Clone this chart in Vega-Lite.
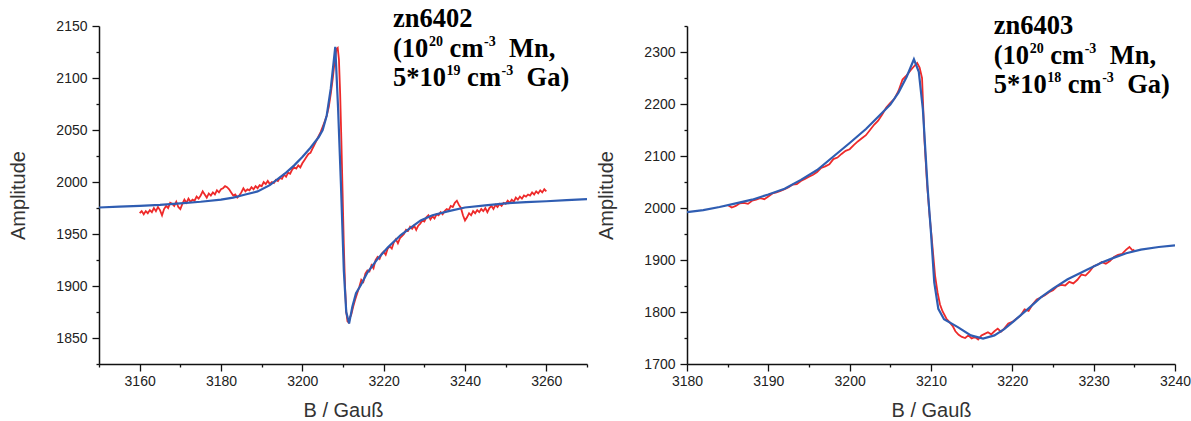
{
  "$schema": "https://vega.github.io/schema/vega-lite/v6.json",
  "background": "white",
  "padding": {"left": 8, "top": 6, "right": 0, "bottom": 0},
  "bounds": "flush",
  "spacing": 100,
  "config": {
    "view": {"stroke": null},
    "axis": {
      "grid": false,
      "domainColor": "#111",
      "domainWidth": 1.5,
      "tickColor": "#111",
      "tickWidth": 1.3,
      "labelFont": "Liberation Sans",
      "labelFontSize": 14,
      "labelColor": "#222",
      "titleFont": "Liberation Sans",
      "titleFontSize": 20,
      "titleFontWeight": "normal",
      "titleColor": "#333",
      "labelOverlap": false,
      "labelFlush": false
    },
    "text": {"font": "Liberation Serif", "fontWeight": "bold", "fontSize": 26.5, "align": "left", "baseline": "alphabetic", "color": "#000"}
  },
  "datasets": {
    "left_fit": [
      {"B": 3150, "A": 1975.5}, {"B": 3155, "A": 1976.3}, {"B": 3160, "A": 1977}, {"B": 3165, "A": 1978}, {"B": 3170, "A": 1979.5},
      {"B": 3175, "A": 1981}, {"B": 3180, "A": 1983}, {"B": 3183, "A": 1985}, {"B": 3186, "A": 1988}, {"B": 3189, "A": 1991},
      {"B": 3192, "A": 1997}, {"B": 3194, "A": 2003}, {"B": 3196, "A": 2009}, {"B": 3198, "A": 2016}, {"B": 3200, "A": 2024},
      {"B": 3202, "A": 2033}, {"B": 3204, "A": 2043}, {"B": 3205, "A": 2050}, {"B": 3206, "A": 2064}, {"B": 3207, "A": 2090},
      {"B": 3207.6, "A": 2112}, {"B": 3208.1, "A": 2130}, {"B": 3208.8, "A": 2070}, {"B": 3209.5, "A": 1997}, {"B": 3210.2, "A": 1915},
      {"B": 3210.8, "A": 1875}, {"B": 3211.5, "A": 1864}, {"B": 3212.3, "A": 1880}, {"B": 3213.2, "A": 1893}, {"B": 3214.4, "A": 1901},
      {"B": 3216, "A": 1913}, {"B": 3218.5, "A": 1926}, {"B": 3221, "A": 1937}, {"B": 3224.2, "A": 1949}, {"B": 3227, "A": 1957},
      {"B": 3229.1, "A": 1963}, {"B": 3232, "A": 1968}, {"B": 3236, "A": 1972}, {"B": 3240, "A": 1975.5}, {"B": 3245, "A": 1977.5},
      {"B": 3250, "A": 1979.5}, {"B": 3255, "A": 1980.6}, {"B": 3260, "A": 1981.5}, {"B": 3265, "A": 1982.5}, {"B": 3270, "A": 1983.5}
    ],
    "left_data": [
      {"B": 3160.0, "A": 1970}, {"B": 3160.5, "A": 1972}, {"B": 3161.0, "A": 1969}, {"B": 3161.5, "A": 1972}, {"B": 3162.0, "A": 1970},
      {"B": 3162.5, "A": 1973}, {"B": 3163.0, "A": 1971}, {"B": 3163.5, "A": 1975}, {"B": 3164.0, "A": 1972}, {"B": 3164.5, "A": 1976},
      {"B": 3165.0, "A": 1973}, {"B": 3165.5, "A": 1968}, {"B": 3166.0, "A": 1974}, {"B": 3166.5, "A": 1977}, {"B": 3167.0, "A": 1975},
      {"B": 3167.5, "A": 1980}, {"B": 3168.0, "A": 1979}, {"B": 3168.5, "A": 1977}, {"B": 3169.0, "A": 1981}, {"B": 3169.5, "A": 1976},
      {"B": 3170.0, "A": 1974}, {"B": 3170.5, "A": 1979}, {"B": 3171.0, "A": 1983}, {"B": 3171.5, "A": 1980}, {"B": 3172.0, "A": 1984},
      {"B": 3172.5, "A": 1981}, {"B": 3173.0, "A": 1983}, {"B": 3173.5, "A": 1982}, {"B": 3174.0, "A": 1986}, {"B": 3174.5, "A": 1984},
      {"B": 3175.0, "A": 1987}, {"B": 3175.5, "A": 1991}, {"B": 3176.0, "A": 1988}, {"B": 3176.5, "A": 1985}, {"B": 3177.0, "A": 1989},
      {"B": 3177.5, "A": 1987}, {"B": 3178.0, "A": 1990}, {"B": 3178.5, "A": 1988}, {"B": 3179.0, "A": 1992}, {"B": 3179.5, "A": 1990},
      {"B": 3180.0, "A": 1993}, {"B": 3180.5, "A": 1994}, {"B": 3181.0, "A": 1996}, {"B": 3181.5, "A": 1995}, {"B": 3182.0, "A": 1993},
      {"B": 3182.5, "A": 1990}, {"B": 3183.0, "A": 1987}, {"B": 3183.5, "A": 1988}, {"B": 3184.0, "A": 1985}, {"B": 3184.5, "A": 1987},
      {"B": 3185.0, "A": 1990}, {"B": 3185.5, "A": 1994}, {"B": 3186.0, "A": 1991}, {"B": 3186.5, "A": 1993}, {"B": 3187.0, "A": 1992},
      {"B": 3187.5, "A": 1995}, {"B": 3188.0, "A": 1993}, {"B": 3188.5, "A": 1996}, {"B": 3189.0, "A": 1994}, {"B": 3189.5, "A": 1997},
      {"B": 3190.0, "A": 1996}, {"B": 3190.5, "A": 2000}, {"B": 3191.0, "A": 1998}, {"B": 3191.5, "A": 2001}, {"B": 3192.0, "A": 1998},
      {"B": 3192.5, "A": 2000}, {"B": 3193.0, "A": 1999}, {"B": 3193.5, "A": 2002}, {"B": 3194.0, "A": 2001}, {"B": 3194.5, "A": 2004},
      {"B": 3195.0, "A": 2003}, {"B": 3195.5, "A": 2007}, {"B": 3196.0, "A": 2005}, {"B": 3196.5, "A": 2009}, {"B": 3197.0, "A": 2008},
      {"B": 3197.5, "A": 2012}, {"B": 3198.0, "A": 2014}, {"B": 3198.5, "A": 2013}, {"B": 3199.0, "A": 2016}, {"B": 3199.5, "A": 2014},
      {"B": 3200.0, "A": 2018}, {"B": 3200.5, "A": 2021}, {"B": 3201.0, "A": 2024}, {"B": 3201.5, "A": 2027}, {"B": 3202.0, "A": 2028},
      {"B": 3202.5, "A": 2032}, {"B": 3203.0, "A": 2036}, {"B": 3203.5, "A": 2040}, {"B": 3204.0, "A": 2044}, {"B": 3204.5, "A": 2048},
      {"B": 3205.0, "A": 2053}, {"B": 3205.5, "A": 2058}, {"B": 3206.0, "A": 2064}, {"B": 3206.5, "A": 2072}, {"B": 3207.0, "A": 2085},
      {"B": 3207.5, "A": 2100}, {"B": 3208.0, "A": 2118}, {"B": 3208.4, "A": 2128}, {"B": 3208.7, "A": 2129}, {"B": 3209.0, "A": 2118},
      {"B": 3209.3, "A": 2085}, {"B": 3209.6, "A": 2040}, {"B": 3209.9, "A": 1990}, {"B": 3210.2, "A": 1940}, {"B": 3210.5, "A": 1900},
      {"B": 3210.8, "A": 1875}, {"B": 3211.1, "A": 1866}, {"B": 3211.4, "A": 1865}, {"B": 3211.7, "A": 1870}, {"B": 3212.0, "A": 1872},
      {"B": 3212.5, "A": 1880}, {"B": 3213.0, "A": 1887}, {"B": 3213.5, "A": 1893}, {"B": 3214.0, "A": 1899}, {"B": 3214.5, "A": 1906},
      {"B": 3215.0, "A": 1904}, {"B": 3215.5, "A": 1912}, {"B": 3216.0, "A": 1915}, {"B": 3216.5, "A": 1914}, {"B": 3217.0, "A": 1920},
      {"B": 3217.5, "A": 1917}, {"B": 3218.0, "A": 1925}, {"B": 3218.5, "A": 1928}, {"B": 3219.0, "A": 1926}, {"B": 3219.5, "A": 1931},
      {"B": 3220.0, "A": 1933}, {"B": 3220.5, "A": 1930}, {"B": 3221.0, "A": 1936}, {"B": 3221.5, "A": 1938}, {"B": 3222.0, "A": 1936},
      {"B": 3222.5, "A": 1942}, {"B": 3223.0, "A": 1945}, {"B": 3223.5, "A": 1941}, {"B": 3224.0, "A": 1946}, {"B": 3224.5, "A": 1948},
      {"B": 3225.0, "A": 1950}, {"B": 3225.5, "A": 1954}, {"B": 3226.0, "A": 1953}, {"B": 3226.5, "A": 1957}, {"B": 3227.0, "A": 1955},
      {"B": 3227.5, "A": 1958}, {"B": 3228.0, "A": 1954}, {"B": 3228.5, "A": 1958}, {"B": 3229.0, "A": 1960}, {"B": 3229.5, "A": 1963},
      {"B": 3230.0, "A": 1962}, {"B": 3230.5, "A": 1966}, {"B": 3231.0, "A": 1968}, {"B": 3231.5, "A": 1964}, {"B": 3232.0, "A": 1967},
      {"B": 3232.5, "A": 1965}, {"B": 3233.0, "A": 1969}, {"B": 3233.5, "A": 1968}, {"B": 3234.0, "A": 1971}, {"B": 3234.5, "A": 1969},
      {"B": 3235.0, "A": 1972}, {"B": 3235.5, "A": 1974}, {"B": 3236.0, "A": 1973}, {"B": 3236.5, "A": 1977}, {"B": 3237.0, "A": 1976},
      {"B": 3237.5, "A": 1980}, {"B": 3238.0, "A": 1982}, {"B": 3238.5, "A": 1978}, {"B": 3239.0, "A": 1975}, {"B": 3239.5, "A": 1968},
      {"B": 3240.0, "A": 1963}, {"B": 3240.5, "A": 1966}, {"B": 3241.0, "A": 1970}, {"B": 3241.5, "A": 1968}, {"B": 3242.0, "A": 1972},
      {"B": 3242.5, "A": 1970}, {"B": 3243.0, "A": 1973}, {"B": 3243.5, "A": 1971}, {"B": 3244.0, "A": 1974}, {"B": 3244.5, "A": 1972},
      {"B": 3245.0, "A": 1975}, {"B": 3245.5, "A": 1971}, {"B": 3246.0, "A": 1975}, {"B": 3246.5, "A": 1977}, {"B": 3247.0, "A": 1974},
      {"B": 3247.5, "A": 1978}, {"B": 3248.0, "A": 1976}, {"B": 3248.5, "A": 1979}, {"B": 3249.0, "A": 1977}, {"B": 3249.5, "A": 1980},
      {"B": 3250.0, "A": 1979}, {"B": 3250.5, "A": 1982}, {"B": 3251.0, "A": 1980}, {"B": 3251.5, "A": 1983}, {"B": 3252.0, "A": 1981},
      {"B": 3252.5, "A": 1985}, {"B": 3253.0, "A": 1983}, {"B": 3253.5, "A": 1986}, {"B": 3254.0, "A": 1984}, {"B": 3254.5, "A": 1987},
      {"B": 3255.0, "A": 1986}, {"B": 3255.5, "A": 1988}, {"B": 3256.0, "A": 1987}, {"B": 3256.5, "A": 1990}, {"B": 3257.0, "A": 1988},
      {"B": 3257.5, "A": 1991}, {"B": 3258.0, "A": 1989}, {"B": 3258.5, "A": 1992}, {"B": 3259.0, "A": 1990}, {"B": 3259.5, "A": 1993},
      {"B": 3260.0, "A": 1991}
    ],
    "right_fit": [
      {"B": 3180, "A": 1992}, {"B": 3182, "A": 1996}, {"B": 3184, "A": 2002}, {"B": 3186, "A": 2009}, {"B": 3188, "A": 2016},
      {"B": 3190, "A": 2026}, {"B": 3192, "A": 2037}, {"B": 3194, "A": 2054}, {"B": 3196, "A": 2073}, {"B": 3198, "A": 2099},
      {"B": 3200, "A": 2125}, {"B": 3202, "A": 2152}, {"B": 3204, "A": 2183}, {"B": 3205, "A": 2199}, {"B": 3206, "A": 2222},
      {"B": 3207, "A": 2252}, {"B": 3207.9, "A": 2286}, {"B": 3208.5, "A": 2262}, {"B": 3209, "A": 2190}, {"B": 3209.6, "A": 2035},
      {"B": 3210, "A": 1952}, {"B": 3210.4, "A": 1857}, {"B": 3210.9, "A": 1806}, {"B": 3211.6, "A": 1786}, {"B": 3213.3, "A": 1771},
      {"B": 3214.9, "A": 1755}, {"B": 3216.4, "A": 1749}, {"B": 3217.8, "A": 1755}, {"B": 3219, "A": 1767}, {"B": 3220.3, "A": 1784},
      {"B": 3222, "A": 1807}, {"B": 3223.5, "A": 1828}, {"B": 3225, "A": 1845}, {"B": 3226.8, "A": 1863}, {"B": 3229.3, "A": 1882},
      {"B": 3231, "A": 1895}, {"B": 3232.6, "A": 1905}, {"B": 3234, "A": 1913}, {"B": 3235.8, "A": 1920}, {"B": 3238, "A": 1925},
      {"B": 3240, "A": 1928}
    ],
    "right_data": [
      {"B": 3185.0, "A": 2006}, {"B": 3185.5, "A": 2001}, {"B": 3186.0, "A": 2004}, {"B": 3186.5, "A": 2009}, {"B": 3187.0, "A": 2010},
      {"B": 3187.5, "A": 2008}, {"B": 3188.0, "A": 2014}, {"B": 3188.5, "A": 2016}, {"B": 3189.0, "A": 2019}, {"B": 3189.5, "A": 2017},
      {"B": 3190.0, "A": 2022}, {"B": 3190.5, "A": 2028}, {"B": 3191.0, "A": 2030}, {"B": 3191.5, "A": 2033}, {"B": 3192.0, "A": 2036},
      {"B": 3192.5, "A": 2040}, {"B": 3193.0, "A": 2045}, {"B": 3193.5, "A": 2046}, {"B": 3194.0, "A": 2052}, {"B": 3194.5, "A": 2056},
      {"B": 3195.0, "A": 2060}, {"B": 3195.5, "A": 2064}, {"B": 3196.0, "A": 2069}, {"B": 3196.5, "A": 2077}, {"B": 3197.0, "A": 2080},
      {"B": 3197.5, "A": 2084}, {"B": 3198.0, "A": 2094}, {"B": 3198.5, "A": 2097}, {"B": 3199.0, "A": 2104}, {"B": 3199.5, "A": 2110},
      {"B": 3200.0, "A": 2113}, {"B": 3200.5, "A": 2121}, {"B": 3201.0, "A": 2128}, {"B": 3201.5, "A": 2134}, {"B": 3202.0, "A": 2140},
      {"B": 3202.5, "A": 2150}, {"B": 3203.0, "A": 2160}, {"B": 3203.5, "A": 2168}, {"B": 3204.0, "A": 2180}, {"B": 3204.5, "A": 2193},
      {"B": 3205.0, "A": 2202}, {"B": 3205.5, "A": 2210}, {"B": 3206.0, "A": 2225}, {"B": 3206.5, "A": 2247}, {"B": 3207.0, "A": 2255},
      {"B": 3207.5, "A": 2265}, {"B": 3208.0, "A": 2274}, {"B": 3208.3, "A": 2279}, {"B": 3208.6, "A": 2270}, {"B": 3208.9, "A": 2250},
      {"B": 3209.2, "A": 2130}, {"B": 3209.5, "A": 2050}, {"B": 3209.8, "A": 1990}, {"B": 3210.1, "A": 1940}, {"B": 3210.5, "A": 1870},
      {"B": 3210.8, "A": 1838}, {"B": 3211.1, "A": 1815}, {"B": 3211.4, "A": 1802}, {"B": 3211.9, "A": 1787}, {"B": 3212.3, "A": 1780},
      {"B": 3212.7, "A": 1772}, {"B": 3213.0, "A": 1763}, {"B": 3213.4, "A": 1756}, {"B": 3213.8, "A": 1752}, {"B": 3214.2, "A": 1750},
      {"B": 3214.6, "A": 1755}, {"B": 3215.0, "A": 1749}, {"B": 3215.4, "A": 1752}, {"B": 3215.8, "A": 1747}, {"B": 3216.2, "A": 1755},
      {"B": 3216.6, "A": 1758}, {"B": 3217.0, "A": 1761}, {"B": 3217.4, "A": 1757}, {"B": 3217.8, "A": 1763}, {"B": 3218.2, "A": 1768},
      {"B": 3218.6, "A": 1762}, {"B": 3219.0, "A": 1768}, {"B": 3219.5, "A": 1778}, {"B": 3220.0, "A": 1781}, {"B": 3220.5, "A": 1787},
      {"B": 3221.0, "A": 1793}, {"B": 3221.5, "A": 1805}, {"B": 3222.0, "A": 1802}, {"B": 3222.5, "A": 1815}, {"B": 3223.0, "A": 1824},
      {"B": 3223.5, "A": 1828}, {"B": 3224.0, "A": 1832}, {"B": 3224.5, "A": 1838}, {"B": 3225.0, "A": 1842}, {"B": 3225.5, "A": 1849},
      {"B": 3226.0, "A": 1852}, {"B": 3226.5, "A": 1851}, {"B": 3227.0, "A": 1858}, {"B": 3227.5, "A": 1855}, {"B": 3228.0, "A": 1862},
      {"B": 3228.5, "A": 1872}, {"B": 3229.0, "A": 1870}, {"B": 3229.5, "A": 1878}, {"B": 3230.0, "A": 1888}, {"B": 3230.5, "A": 1891},
      {"B": 3231.0, "A": 1896}, {"B": 3231.5, "A": 1893}, {"B": 3232.0, "A": 1898}, {"B": 3232.5, "A": 1906}, {"B": 3233.0, "A": 1910},
      {"B": 3233.5, "A": 1912}, {"B": 3234.0, "A": 1920}, {"B": 3234.4, "A": 1925}, {"B": 3234.8, "A": 1918}, {"B": 3235.0, "A": 1920}
    ]
  },
  "hconcat": [
    {
      "width": 488,
      "height": 338,
      "resolve": {"axis": {"x": "independent", "y": "independent"}},
      "layer": [
        {
          "data": {"name": "left_data"},
          "mark": {"type": "line", "color": "#ee2a2a", "strokeWidth": 1.8, "clip": true},
          "encoding": {
            "x": {
              "field": "B", "type": "quantitative", "title": "B / Gauß",
              "scale": {"domain": [3150, 3270], "nice": false, "zero": false},
              "axis": {
                "values": [3150, 3160, 3170, 3180, 3190, 3200, 3210, 3220, 3230, 3240, 3250, 3260, 3270],
                "format": "d",
                "labelExpr": "datum.value % 20 === 0 ? datum.label : ''",
                "tickSize": {"condition": {"test": "datum.value % 20 === 0", "value": 7}, "value": 3},
                "labelPadding": 3,
                "titlePadding": 12
              }
            },
            "y": {
              "field": "A", "type": "quantitative", "title": "Amplitude",
              "scale": {"domain": [1825, 2150], "nice": false, "zero": false},
              "axis": {
                "values": [1825, 1850, 1875, 1900, 1925, 1950, 1975, 2000, 2025, 2050, 2075, 2100, 2125, 2150],
                "format": "d",
                "labelExpr": "datum.value % 50 === 0 ? datum.label : ''",
                "tickSize": {"condition": {"test": "datum.value % 50 === 0", "value": 7}, "value": 3},
                "labelPadding": 5,
                "titlePadding": 27
              }
            }
          }
        },
        {
          "data": {"name": "left_fit"},
          "mark": {"type": "line", "color": "#2f5db2", "strokeWidth": 2.2, "clip": true},
          "encoding": {
            "x": {"field": "B", "type": "quantitative", "axis": null},
            "y": {"field": "A", "type": "quantitative", "axis": null}
          }
        },
        {
          "data": {"values": [{"t": "zn6402\n(10\n5*10"}]},
          "mark": {"type": "text", "lineBreak": "\n", "lineHeight": 29.5},
          "encoding": {
            "text": {"field": "t"},
            "x": {"datum": 3222.3, "type": "quantitative", "axis": null},
            "y": {"datum": 2148.6, "type": "quantitative", "axis": null}
          }
        },
        {
          "data": {"values": [{"t": "20"}]},
          "mark": {"type": "text", "fontSize": 14, "dx": 36, "dy": 18.5},
          "encoding": {
            "text": {"field": "t"},
            "x": {"datum": 3222.3, "type": "quantitative", "axis": null},
            "y": {"datum": 2148.6, "type": "quantitative", "axis": null}
          }
        },
        {
          "data": {"values": [{"t": "cm"}]},
          "mark": {"type": "text", "dx": 56.6, "dy": 29.5},
          "encoding": {
            "text": {"field": "t"},
            "x": {"datum": 3222.3, "type": "quantitative", "axis": null},
            "y": {"datum": 2148.6, "type": "quantitative", "axis": null}
          }
        },
        {
          "data": {"values": [{"t": "-3"}]},
          "mark": {"type": "text", "fontSize": 14, "dx": 91, "dy": 18.5},
          "encoding": {
            "text": {"field": "t"},
            "x": {"datum": 3222.3, "type": "quantitative", "axis": null},
            "y": {"datum": 2148.6, "type": "quantitative", "axis": null}
          }
        },
        {
          "data": {"values": [{"t": "Mn,"}]},
          "mark": {"type": "text", "dx": 116, "dy": 29.5},
          "encoding": {
            "text": {"field": "t"},
            "x": {"datum": 3222.3, "type": "quantitative", "axis": null},
            "y": {"datum": 2148.6, "type": "quantitative", "axis": null}
          }
        },
        {
          "data": {"values": [{"t": "19"}]},
          "mark": {"type": "text", "fontSize": 14, "dx": 53.5, "dy": 48},
          "encoding": {
            "text": {"field": "t"},
            "x": {"datum": 3222.3, "type": "quantitative", "axis": null},
            "y": {"datum": 2148.6, "type": "quantitative", "axis": null}
          }
        },
        {
          "data": {"values": [{"t": "cm"}]},
          "mark": {"type": "text", "dx": 74.1, "dy": 59},
          "encoding": {
            "text": {"field": "t"},
            "x": {"datum": 3222.3, "type": "quantitative", "axis": null},
            "y": {"datum": 2148.6, "type": "quantitative", "axis": null}
          }
        },
        {
          "data": {"values": [{"t": "-3"}]},
          "mark": {"type": "text", "fontSize": 14, "dx": 108.5, "dy": 48},
          "encoding": {
            "text": {"field": "t"},
            "x": {"datum": 3222.3, "type": "quantitative", "axis": null},
            "y": {"datum": 2148.6, "type": "quantitative", "axis": null}
          }
        },
        {
          "data": {"values": [{"t": "Ga)"}]},
          "mark": {"type": "text", "dx": 133.5, "dy": 59},
          "encoding": {
            "text": {"field": "t"},
            "x": {"datum": 3222.3, "type": "quantitative", "axis": null},
            "y": {"datum": 2148.6, "type": "quantitative", "axis": null}
          }
        }
      ]
    },
    {
      "width": 488,
      "height": 338,
      "resolve": {"axis": {"x": "independent", "y": "independent"}},
      "layer": [
        {
          "data": {"name": "right_data"},
          "mark": {"type": "line", "color": "#ee2a2a", "strokeWidth": 1.8, "clip": true},
          "encoding": {
            "x": {
              "field": "B", "type": "quantitative", "title": "B / Gauß",
              "scale": {"domain": [3180, 3240], "nice": false, "zero": false},
              "axis": {
                "values": [3180, 3185, 3190, 3195, 3200, 3205, 3210, 3215, 3220, 3225, 3230, 3235, 3240],
                "format": "d",
                "labelExpr": "datum.value % 10 === 0 ? datum.label : ''",
                "tickSize": {"condition": {"test": "datum.value % 10 === 0", "value": 7}, "value": 3},
                "labelPadding": 3,
                "titlePadding": 12
              }
            },
            "y": {
              "field": "A", "type": "quantitative", "title": "Amplitude",
              "scale": {"domain": [1700, 2350], "nice": false, "zero": false},
              "axis": {
                "values": [1700, 1750, 1800, 1850, 1900, 1950, 2000, 2050, 2100, 2150, 2200, 2250, 2300, 2350],
                "format": "d",
                "labelExpr": "datum.value % 100 === 0 ? datum.label : ''",
                "tickSize": {"condition": {"test": "datum.value % 100 === 0", "value": 7}, "value": 3},
                "labelPadding": 5,
                "titlePadding": 27
              }
            }
          }
        },
        {
          "data": {"name": "right_fit"},
          "mark": {"type": "line", "color": "#2f5db2", "strokeWidth": 2.2, "clip": true},
          "encoding": {
            "x": {"field": "B", "type": "quantitative", "axis": null},
            "y": {"field": "A", "type": "quantitative", "axis": null}
          }
        },
        {
          "data": {"values": [{"t": "zn6403\n(10\n5*10"}]},
          "mark": {"type": "text", "lineBreak": "\n", "lineHeight": 29.5},
          "encoding": {
            "text": {"field": "t"},
            "x": {"datum": 3217.7, "type": "quantitative", "axis": null},
            "y": {"datum": 2334.6, "type": "quantitative", "axis": null}
          }
        },
        {
          "data": {"values": [{"t": "20"}]},
          "mark": {"type": "text", "fontSize": 14, "dx": 36, "dy": 18.5},
          "encoding": {
            "text": {"field": "t"},
            "x": {"datum": 3217.7, "type": "quantitative", "axis": null},
            "y": {"datum": 2334.6, "type": "quantitative", "axis": null}
          }
        },
        {
          "data": {"values": [{"t": "cm"}]},
          "mark": {"type": "text", "dx": 56.6, "dy": 29.5},
          "encoding": {
            "text": {"field": "t"},
            "x": {"datum": 3217.7, "type": "quantitative", "axis": null},
            "y": {"datum": 2334.6, "type": "quantitative", "axis": null}
          }
        },
        {
          "data": {"values": [{"t": "-3"}]},
          "mark": {"type": "text", "fontSize": 14, "dx": 91, "dy": 18.5},
          "encoding": {
            "text": {"field": "t"},
            "x": {"datum": 3217.7, "type": "quantitative", "axis": null},
            "y": {"datum": 2334.6, "type": "quantitative", "axis": null}
          }
        },
        {
          "data": {"values": [{"t": "Mn,"}]},
          "mark": {"type": "text", "dx": 116, "dy": 29.5},
          "encoding": {
            "text": {"field": "t"},
            "x": {"datum": 3217.7, "type": "quantitative", "axis": null},
            "y": {"datum": 2334.6, "type": "quantitative", "axis": null}
          }
        },
        {
          "data": {"values": [{"t": "18"}]},
          "mark": {"type": "text", "fontSize": 14, "dx": 53.5, "dy": 48},
          "encoding": {
            "text": {"field": "t"},
            "x": {"datum": 3217.7, "type": "quantitative", "axis": null},
            "y": {"datum": 2334.6, "type": "quantitative", "axis": null}
          }
        },
        {
          "data": {"values": [{"t": "cm"}]},
          "mark": {"type": "text", "dx": 74.1, "dy": 59},
          "encoding": {
            "text": {"field": "t"},
            "x": {"datum": 3217.7, "type": "quantitative", "axis": null},
            "y": {"datum": 2334.6, "type": "quantitative", "axis": null}
          }
        },
        {
          "data": {"values": [{"t": "-3"}]},
          "mark": {"type": "text", "fontSize": 14, "dx": 108.5, "dy": 48},
          "encoding": {
            "text": {"field": "t"},
            "x": {"datum": 3217.7, "type": "quantitative", "axis": null},
            "y": {"datum": 2334.6, "type": "quantitative", "axis": null}
          }
        },
        {
          "data": {"values": [{"t": "Ga)"}]},
          "mark": {"type": "text", "dx": 133.5, "dy": 59},
          "encoding": {
            "text": {"field": "t"},
            "x": {"datum": 3217.7, "type": "quantitative", "axis": null},
            "y": {"datum": 2334.6, "type": "quantitative", "axis": null}
          }
        }
      ]
    }
  ]
}
